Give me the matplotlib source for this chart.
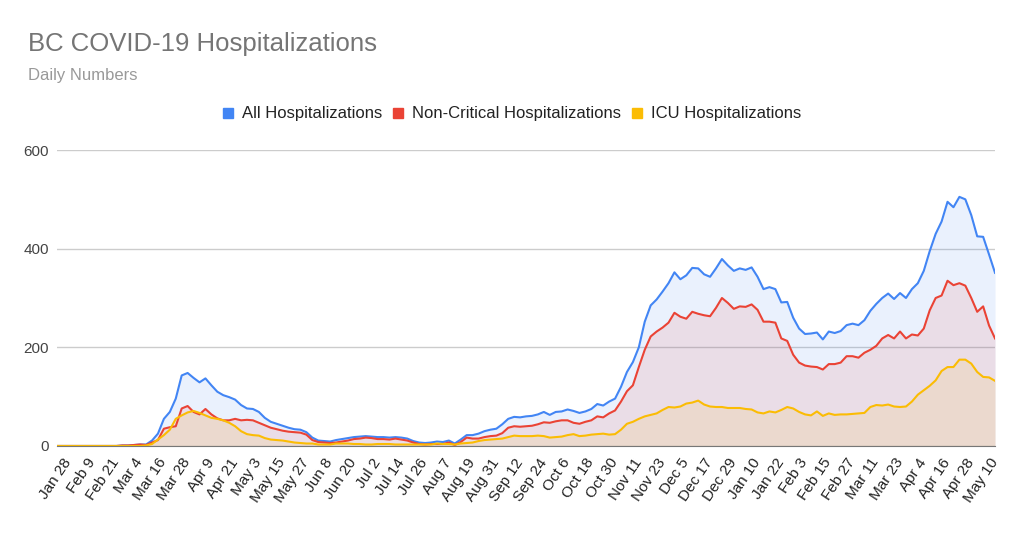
import pandas as pd
import matplotlib.pyplot as plt
from matplotlib.lines import Line2D

plt.rcParams['font.family'] = ['Liberation Sans', 'DejaVu Sans']

# values read every 3 days, starting Jan 25 2020
dates = pd.date_range('2020-01-25', periods=159, freq='3D')

all_hosp = [
    0, 0, 0, 0, 0, 0, 0, 0, 0, 0, 0,
    1, 1, 2, 3, 3, 11, 25, 55, 69, 96,
    143, 148, 138, 129, 137, 123, 110, 103, 99, 94,
    83, 76, 75, 69, 57, 49, 45, 41, 37, 34,
    33, 28, 17, 11, 10, 9,
    12, 14, 16, 18, 19, 20, 19, 18, 18, 17,
    18, 17, 15, 10, 7, 6, 7, 9, 8, 11,
    5, 13, 22, 22, 25, 30, 33, 35, 44, 55,
    59, 58, 60, 61, 64, 69, 63, 69, 70, 74,
    71, 67, 70, 75, 85, 82, 90, 96, 120, 150,
    170, 200, 252, 285,
    297, 313, 330, 352, 338, 346, 361, 360, 348, 343,
    360, 379, 366, 355, 360, 357, 362, 343, 318, 322,
    318, 291, 292, 260, 238, 227, 228, 230, 216, 232,
    229, 233, 245, 248, 245, 255, 274, 288, 300, 309,
    298, 310, 300, 318, 330, 355, 395, 430, 455, 495,
    484, 505, 500, 468, 425, 424, 388, 351,
]

non_critical = [
    0, 0, 0, 0, 0, 0, 0, 0, 0, 0, 0,
    1, 1, 2, 3, 2, 7, 12, 35, 38, 40,
    76, 81, 69, 64, 75, 64, 56, 52, 52, 55,
    52, 53, 52, 47, 42, 37, 34, 31, 29, 28,
    27, 23, 12, 8, 7, 6,
    7, 9, 11, 14, 15, 17, 16, 14, 14, 13,
    15, 13, 11, 7, 4, 3, 4, 4, 4, 7,
    2, 8, 17, 15, 15, 18, 20, 21, 26, 37,
    40, 39, 40, 41, 44, 48, 47, 50, 52, 52,
    47, 45, 49, 52, 60, 58, 66, 72, 90, 111,
    123, 160, 195, 222,
    232, 240, 250, 270, 262, 258, 272, 268, 265, 263,
    280, 300, 290, 278, 283, 282, 287, 276, 252, 252,
    250, 218, 213, 185, 169, 163, 161, 160, 155, 166,
    166, 169, 182, 182, 179, 189, 195, 203, 218, 225,
    218, 232, 218, 226, 224, 238, 275, 300, 305, 335,
    326, 330, 325, 300, 272, 283, 244, 218,
]

icu = [
    0, 0, 0, 0, 0, 0, 0, 0, 0, 0, 0,
    0, 0, 0, 0, 1, 4, 13, 22, 33, 55,
    62, 68, 71, 67, 62, 57, 55, 52, 47, 40,
    30, 24, 22, 21, 16, 13, 12, 11, 9, 7,
    6, 5, 5, 3, 3, 3,
    5, 5, 5, 4, 4, 3, 3, 4, 4, 4,
    3, 3, 3, 3, 3, 3, 3, 5, 4, 4,
    3, 5, 6, 7, 10, 12, 13, 14, 15, 18,
    21, 20, 20, 20, 21, 20, 17, 18, 19, 22,
    24, 20, 21, 23, 24, 25, 23, 24, 33, 45,
    49, 55, 60, 63,
    66, 73, 79, 78, 80, 86, 88, 92, 84, 80,
    79, 79, 77, 77, 77, 75, 74, 68, 66, 70,
    68, 73, 79, 76, 69, 64, 62, 70, 61, 66,
    63, 64, 64, 65, 66, 67, 79, 83, 82, 84,
    80, 79, 80, 90, 104, 113, 122, 133, 152, 160,
    160, 175, 175, 167, 150, 140, 139, 132,
]

series = [
    ('All Hospitalizations', all_hosp, '#4285F4'),
    ('Non-Critical Hospitalizations', non_critical, '#EA4335'),
    ('ICU Hospitalizations', icu, '#FBBC04'),
]

tick_dates = pd.date_range('2020-01-28', '2021-05-10', freq='12D')
tick_labels = [f'{d:%b} {d.day}' for d in tick_dates]

fig = plt.figure(figsize=(10.22, 5.35), dpi=100)
ax = fig.add_axes([0.0558, 0.1664, 0.9178, 0.5532])

for name, vals, col in series:
    ax.fill_between(dates, vals, 0, color=col, alpha=0.11, linewidth=0)
    ax.plot(dates, vals, color=col, linewidth=1.5, label=name)

ax.set_xlim(dates[0], dates[-1])
ax.set_ylim(0, 600)
ax.set_yticks([0, 200, 400, 600])
ax.set_xticks(tick_dates)
ax.set_xticklabels(tick_labels, rotation=56, ha='right', va='top',
                   rotation_mode='anchor', fontsize=11, color='#222222')
ax.tick_params(axis='x', length=0, pad=7)
ax.tick_params(axis='y', length=0, pad=6, labelsize=11, labelcolor='#444444')
ax.grid(axis='y', color='#cccccc', linewidth=1)
ax.set_axisbelow(True)
for s in ['top', 'right', 'left']:
    ax.spines[s].set_visible(False)
ax.spines['bottom'].set_color('#777777')
ax.spines['bottom'].set_zorder(5)

fig.text(0.0274, 0.918, 'BC COVID-19 Hospitalizations', fontsize=18.5,
         color='#757575', va='center')
fig.text(0.0274, 0.858, 'Daily Numbers', fontsize=12, color='#999999', va='center')

handles = [Line2D([], [], marker='s', linestyle='none', markersize=7,
                  color=col, label=name) for name, _, col in series]
fig.legend(handles=handles, loc='center', bbox_to_anchor=(0.5, 0.787), ncol=3,
           frameon=False, fontsize=12, handlelength=0.8, handletextpad=0.45,
           columnspacing=0.55, labelcolor='#222222')

fig.savefig('out.png', dpi=100)
